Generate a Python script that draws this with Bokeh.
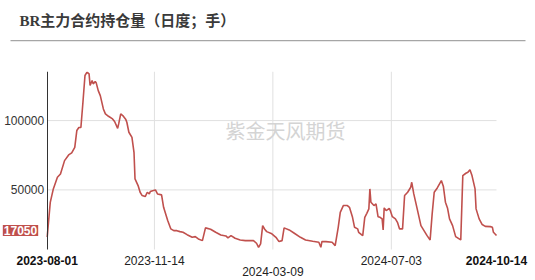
import pandas as pd
from bokeh.plotting import figure
from bokeh.layouts import column
from bokeh.models import (ColumnDataSource, Range1d, Label, BoxAnnotation, FixedTicker,
                          DatetimeAxis, LinearAxis, DatetimeTickFormatter, BasicTickFormatter)
from bokeh.embed import file_html
from bokeh.resources import INLINE

dates = [
    "2023-08-01", "2023-08-04", "2023-08-07", "2023-08-11", "2023-08-14", "2023-08-18",
    "2023-08-22", "2023-08-25", "2023-08-28", "2023-08-30", "2023-09-01", "2023-09-03",
    "2023-09-05", "2023-09-07", "2023-09-09", "2023-09-11", "2023-09-12", "2023-09-14",
    "2023-09-15", "2023-09-17", "2023-09-18", "2023-09-20", "2023-09-22", "2023-09-25",
    "2023-09-27", "2023-09-30", "2023-10-04", "2023-10-06", "2023-10-09", "2023-10-10",
    "2023-10-12", "2023-10-14", "2023-10-17", "2023-10-18", "2023-10-20", "2023-10-23",
    "2023-10-25", "2023-10-26", "2023-10-29", "2023-10-31", "2023-11-02", "2023-11-05",
    "2023-11-07", "2023-11-09", "2023-11-10", "2023-11-13", "2023-11-15", "2023-11-17",
    "2023-11-21", "2023-11-23", "2023-11-27", "2023-11-30", "2023-12-03", "2023-12-06",
    "2023-12-09", "2023-12-12", "2023-12-16", "2023-12-21", "2023-12-24", "2023-12-27",
    "2023-12-31", "2024-01-03", "2024-01-08", "2024-01-13", "2024-01-18", "2024-01-23",
    "2024-01-25", "2024-01-28", "2024-02-01", "2024-02-06", "2024-02-11", "2024-02-16",
    "2024-02-19", "2024-02-22", "2024-02-24", "2024-02-26", "2024-02-28", "2024-03-01",
    "2024-03-03", "2024-03-08", "2024-03-12", "2024-03-15", "2024-03-18", "2024-03-20",
    "2024-03-25", "2024-03-30", "2024-04-05", "2024-04-10", "2024-04-17", "2024-04-23",
    "2024-04-25", "2024-04-26", "2024-04-30", "2024-05-06", "2024-05-09", "2024-05-12",
    "2024-05-14", "2024-05-17", "2024-05-21", "2024-05-23", "2024-05-26", "2024-05-28",
    "2024-05-31", "2024-06-01", "2024-06-05", "2024-06-07", "2024-06-09", "2024-06-11",
    "2024-06-12", "2024-06-13", "2024-06-16", "2024-06-18", "2024-06-20", "2024-06-22",
    "2024-06-24", "2024-06-25", "2024-06-26", "2024-06-28", "2024-07-01", "2024-07-02",
    "2024-07-04", "2024-07-07", "2024-07-09", "2024-07-11", "2024-07-14", "2024-07-16",
    "2024-07-19", "2024-07-22", "2024-07-23", "2024-07-25", "2024-07-28", "2024-08-01",
    "2024-08-04", "2024-08-07", "2024-08-10", "2024-08-12", "2024-08-14", "2024-08-17",
    "2024-08-21", "2024-08-23", "2024-08-25", "2024-08-27", "2024-08-29", "2024-09-01",
    "2024-09-04", "2024-09-09", "2024-09-11", "2024-09-14", "2024-09-16", "2024-09-18",
    "2024-09-20", "2024-09-23", "2024-09-24", "2024-09-27", "2024-09-30", "2024-10-03",
    "2024-10-08", "2024-10-10", "2024-10-11", "2024-10-14",
]
open_interest = [
    16000, 41000, 50700, 59100, 61500, 71100,
    75200, 76700, 80700, 92800, 95000, 95000,
    113200, 132500, 134900, 133700, 125300, 128900,
    126500, 128100, 127200, 121600, 118000, 108400,
    104800, 103100, 101200, 99300, 94400, 97600,
    104800, 103600, 100700, 98800, 91600, 87900,
    77100, 57900, 53100, 48300, 45900, 45200,
    48300, 47100, 48800, 49500, 50000, 47100,
    46400, 37400, 27900, 21900, 20600, 20600,
    19900, 19400, 17700, 15800, 16300, 14600,
    13400, 22600, 21600, 19400, 17500, 16800,
    15400, 17000, 15100, 13900, 13400, 13400,
    13400, 11500, 8600, 11000, 24200, 21600,
    19900, 18300, 15800, 12700, 13400, 22600,
    21100, 18700, 15800, 13900, 12900, 12200,
    8600, 12700, 12700, 12200, 9800, 23000,
    33800, 38700, 38700, 37400, 30200, 23000,
    21900, 19400, 17000, 30200, 33100, 36300,
    50700, 41100, 38700, 39900, 30700, 30200,
    29100, 21100, 37000, 35100, 36700, 35100,
    30700, 29100, 26600, 21900, 21900, 45900,
    48300, 51900, 55500, 47100, 37400, 24200,
    20600, 17000, 13900, 32700, 48300, 51400,
    56700, 52400, 41100, 37000, 29100, 24200,
    16300, 13900, 60300, 62000, 62700, 64600,
    60300, 50700, 36300, 29100, 25000, 23700,
    23500, 23000, 19400, 17050,
]
x_tick_dates = ["2023-08-01", "2023-11-14", "2024-03-09", "2024-07-03", "2024-10-14"]
y_ticks = [50000, 100000]
y_min, y_max = 7000, 135400
title_text = "BR主力合约持仓量（日度；手）"
watermark_text = "紫金天风期货"

LINE = "#c0504d"
W = 535
HEAD_H = 42
MAIN_H = 280 - HEAD_H

# ---------------- header (title + rule) ----------------
head = figure(width=W, height=HEAD_H, output_backend="svg", toolbar_location=None,
              x_range=Range1d(0, W), y_range=Range1d(HEAD_H, 0),
              min_border=0, outline_line_color=None)
head.axis.visible = False
head.grid.visible = False
head.add_layout(Label(x=19, y=20, text=title_text,
                      text_font="Liberation Serif, Noto Sans CJK SC", text_font_size="15px",
                      text_font_style="bold", text_color="#3a3a3a",
                      text_baseline="middle", text_align="left"))
head.add_layout(BoxAnnotation(left=10, right=525, top=39.6, bottom=40.8,
                              fill_color="#a6a6a6", fill_alpha=1, line_color=None))

# ---------------- main chart ----------------
t = pd.to_datetime(dates)
ticks = pd.to_datetime(x_tick_dates)
t0, t1 = ticks[0], ticks[-1]
frame_l, frame_r = 46.7, 496.0          # pixel positions of first / last date
plot_top, plot_bottom = 71, 249         # pixel positions of y_max / y_min (whole page)
ppd = (frame_r - frame_l) / ((t1 - t0).days)
x_start = t0 - pd.Timedelta(days=frame_l / ppd)
x_end = t1 + pd.Timedelta(days=(W - frame_r) / ppd)
vpp = (y_max - y_min) / (plot_bottom - plot_top)
y_lo = y_min - (280 - plot_bottom) * vpp

src = ColumnDataSource(dict(x=t, y=open_interest))

p = figure(width=W, height=MAIN_H, output_backend="svg", toolbar_location=None,
           x_range=Range1d(x_start, x_end), y_range=Range1d(y_lo, y_max),
           x_axis_type="datetime", x_axis_location=None, y_axis_location=None,
           min_border_left=0, min_border_right=0,
           min_border_top=plot_top - HEAD_H, min_border_bottom=0)
p.outline_line_color = None
p.grid.visible = False

ms = lambda ts: ts.value / 1e6

# horizontal grid lines from the axis to the last date
p.segment(x0=[t0] * len(y_ticks), x1=[t1] * len(y_ticks), y0=y_ticks, y1=y_ticks,
          line_color="#e0e0e0", line_width=1)
# vertical grid lines at inner date ticks
inner = list(ticks[1:-1])
p.segment(x0=inner, x1=inner, y0=[y_min] * len(inner), y1=[y_max] * len(inner),
          line_color="#e0e0e0", line_width=1)

p.line("x", "y", source=src, line_color=LINE, line_width=1.6)

# y axis fixed at the first date
yax = LinearAxis(fixed_location=ms(t0), ticker=FixedTicker(ticks=y_ticks),
                 formatter=BasicTickFormatter(use_scientific=False),
                 bounds=(y_min, y_max),
                 axis_line_color="#333333", major_tick_line_color=None,
                 major_tick_out=0, major_tick_in=0, minor_tick_out=0, minor_tick_in=0,
                 minor_tick_line_color=None, major_label_standoff=3,
                 major_label_text_font="Liberation Sans", major_label_text_font_size="12px",
                 major_label_text_color="#333333")
p.add_layout(yax, "left")

fmt = "%Y-%m-%d"
dfmt = DatetimeTickFormatter(days=fmt, months=fmt, years=fmt, hours=fmt, minutes=fmt,
                             seconds=fmt, milliseconds=fmt, minsec=fmt, hourmin=fmt,
                             context=None)

def date_axis(tick_list, style, standoff, color):
    return DatetimeAxis(fixed_location=y_min, ticker=FixedTicker(ticks=[ms(v) for v in tick_list]),
                        formatter=dfmt, axis_line_color=None, major_tick_line_color=None,
                        major_tick_out=0, major_tick_in=0, minor_tick_out=0, minor_tick_in=0,
                        minor_tick_line_color=None, major_label_standoff=standoff,
                        major_label_text_font="Liberation Sans",
                        major_label_text_font_size="12px",
                        major_label_text_font_style=style, major_label_text_color=color)

p.add_layout(date_axis([ticks[0], ticks[-1]], "bold", 6, "#111111"), "below")
p.add_layout(date_axis([ticks[1], ticks[3]], "normal", 6, "#222222"), "below")
p.add_layout(date_axis([ticks[2]], "normal", 17, "#222222"), "below")

# watermark
p.add_layout(Label(x=285, y=130 - HEAD_H, x_units="canvas", y_units="canvas",
                   text=watermark_text, text_font="Noto Sans CJK SC", text_font_size="20px",
                   text_color="#d4d4d4", text_align="center", text_baseline="middle"))

# last value tag
p.add_layout(Label(x=t0, y=open_interest[-1], x_offset=-26.7, y_offset=5,
                   text=str(open_interest[-1]),
                   text_font="Liberation Sans", text_font_size="12px", text_font_style="bold",
                   text_color="white", text_align="center", text_baseline="middle",
                   background_fill_color=LINE, background_fill_alpha=1, padding=1))

layout = column(head, p, spacing=0)
open("out.html", "w").write(file_html(layout, INLINE))
